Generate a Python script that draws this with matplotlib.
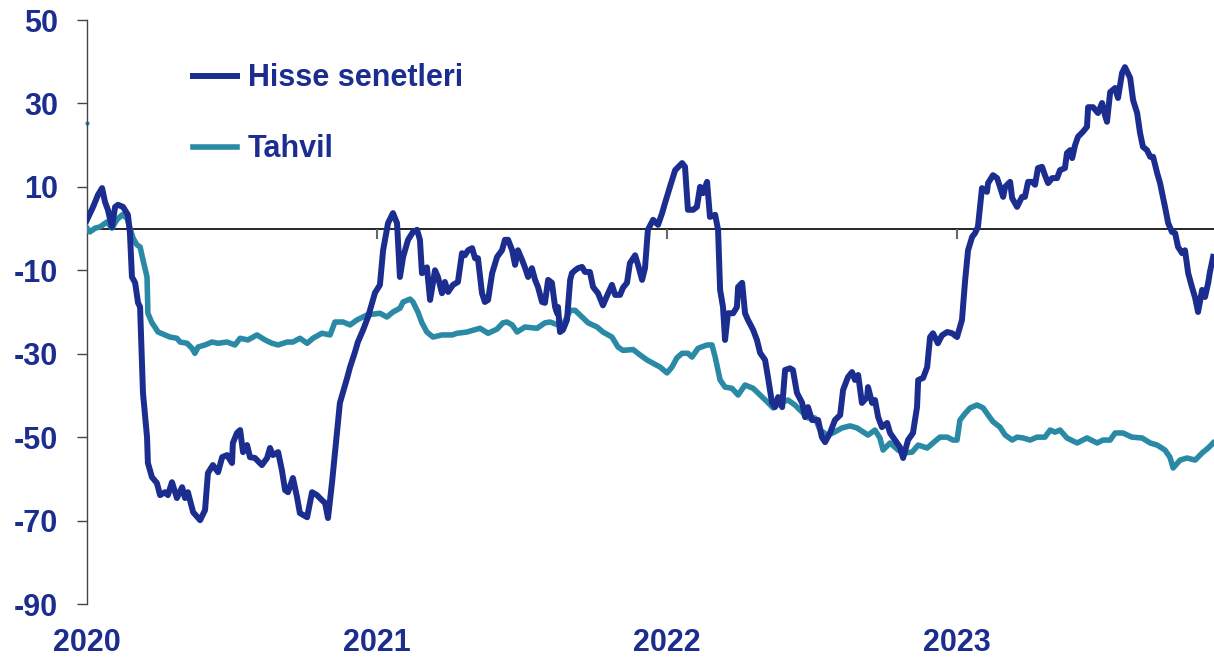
import numpy as np
import matplotlib
matplotlib.use("Agg")
import matplotlib.pyplot as plt

# x = years since start of 2020 (decimal), y = % change
hisse_t = [0.000, 0.021, 0.038, 0.052, 0.062, 0.072, 0.086, 0.097, 0.107, 0.124, 0.141, 0.148, 0.155, 0.166,
           0.176, 0.183, 0.193, 0.207, 0.210, 0.224, 0.241, 0.252, 0.269, 0.279, 0.293, 0.310, 0.328, 0.338,
           0.348, 0.366, 0.390, 0.407, 0.417, 0.434, 0.452, 0.466, 0.483, 0.500, 0.503, 0.517, 0.528, 0.538,
           0.552, 0.562, 0.579, 0.603, 0.621, 0.631, 0.641, 0.659, 0.672, 0.683, 0.693, 0.710, 0.724, 0.734,
           0.759, 0.776, 0.793, 0.810, 0.821, 0.831, 0.845, 0.862, 0.872, 0.897, 0.907, 0.924, 0.934, 0.952,
           0.969, 0.993, 1.010, 1.021, 1.034, 1.038, 1.055, 1.069, 1.079, 1.090, 1.107, 1.124, 1.138, 1.148,
           1.155, 1.172, 1.183, 1.200, 1.210, 1.224, 1.234, 1.245, 1.262, 1.279, 1.293, 1.303, 1.314, 1.328,
           1.338, 1.348, 1.362, 1.372, 1.383, 1.397, 1.414, 1.431, 1.441, 1.452, 1.466, 1.476, 1.486, 1.500,
           1.510, 1.521, 1.534, 1.545, 1.555, 1.569, 1.579, 1.590, 1.603, 1.614, 1.621, 1.624, 1.631, 1.641,
           1.655, 1.666, 1.672, 1.683, 1.693, 1.707, 1.717, 1.734, 1.745, 1.762, 1.779, 1.797, 1.810, 1.821,
           1.838, 1.848, 1.862, 1.872, 1.890, 1.900, 1.914, 1.924, 1.934, 1.952, 1.969, 1.983, 1.993, 2.010,
           2.028, 2.052, 2.062, 2.072, 2.090, 2.103, 2.114, 2.124, 2.138, 2.148, 2.166, 2.176, 2.183, 2.193,
           2.200, 2.210, 2.228, 2.241, 2.245, 2.259, 2.269, 2.279, 2.297, 2.310, 2.321, 2.338, 2.348, 2.362,
           2.372, 2.383, 2.397, 2.407, 2.424, 2.434, 2.448, 2.466, 2.476, 2.486, 2.500, 2.521, 2.534, 2.545,
           2.562, 2.579, 2.597, 2.607, 2.624, 2.638, 2.648, 2.659, 2.672, 2.690, 2.693, 2.707, 2.717, 2.728,
           2.741, 2.759, 2.769, 2.779, 2.793, 2.803, 2.814, 2.831, 2.848, 2.862, 2.866, 2.883, 2.897, 2.907,
           2.917, 2.934, 2.948, 2.966, 2.983, 3.000, 3.017, 3.028, 3.038, 3.052, 3.062, 3.072, 3.086, 3.103,
           3.107, 3.124, 3.138, 3.148, 3.159, 3.166, 3.183, 3.190, 3.207, 3.224, 3.234, 3.245, 3.259, 3.269,
           3.279, 3.293, 3.303, 3.314, 3.328, 3.345, 3.355, 3.372, 3.379, 3.390, 3.397, 3.407, 3.417, 3.434,
           3.448, 3.452, 3.469, 3.486, 3.500, 3.510, 3.517, 3.528, 3.545, 3.555, 3.569, 3.579, 3.597, 3.607,
           3.621, 3.631, 3.641, 3.655, 3.666, 3.676, 3.690, 3.700, 3.717, 3.728, 3.741, 3.752, 3.762, 3.776,
           3.786, 3.797, 3.810, 3.821, 3.831, 3.845, 3.855, 3.866, 3.872, 3.883]
hisse_v = [2.1, 5.2, 8.1, 9.7, 6.4, 4.5, 0.4, 5.2, 5.7, 5.2, 3.3, -1.0, -11.6, -13.0,
           -17.8, -18.8, -39.4, -50.0, -56.2, -59.6, -61.0, -63.9, -63.2, -63.9, -60.8, -64.6, -62.0, -64.6,
           -63.2, -68.0, -69.9, -67.5, -58.6, -56.7, -58.4, -54.8, -54.3, -56.2, -51.4, -49.0, -48.3, -53.6,
           -51.9, -54.8, -55.0, -56.7, -55.0, -52.6, -54.3, -53.6, -57.9, -62.7, -63.2, -59.8, -64.3, -68.2,
           -69.2, -63.2, -63.9, -65.1, -65.8, -69.4, -60.8, -49.0, -41.8, -35.8, -33.2, -29.6, -27.2, -24.3,
           -21.2, -15.4, -13.5, -5.2, -0.3, 1.3, 3.7, 1.3, -11.6, -6.8, -2.7, -0.8, -0.3, -2.7,
           -10.7, -9.3, -17.1, -10.0, -11.6, -15.5, -12.8, -15.2, -13.5, -12.8, -5.9, -6.4, -5.2, -4.7,
           -7.1, -7.1, -15.5, -17.6, -17.1, -10.7, -6.8, -5.2, -2.7, -2.7, -5.2, -8.7, -5.2, -7.5,
           -9.3, -11.6, -9.5, -12.3, -14.0, -17.6, -17.8, -12.3, -13.0, -18.8, -20.3, -18.8, -24.8, -24.3,
           -21.9, -12.3, -10.7, -10.0, -9.5, -9.2, -10.4, -10.4, -14.0, -15.5, -18.4, -15.5, -13.5, -15.9,
           -15.9, -14.2, -13.0, -8.3, -6.4, -8.7, -12.3, -9.5, -0.3, 2.1, 0.9, 3.7, 6.1, 10.0,
           14.0, 15.7, 14.8, 4.5, 4.5, 5.2, 10.0, 8.5, 11.2, 2.8, 3.3, -0.3, -14.7, -18.8,
           -26.7, -20.3, -20.3, -18.8, -14.0, -13.0, -20.3, -21.9, -24.3, -26.7, -29.8, -31.5, -35.6, -41.8,
           -42.8, -40.4, -42.8, -33.9, -33.5, -33.9, -39.4, -41.8, -45.2, -42.8, -45.9, -45.9, -50.0, -51.2,
           -49.0, -45.9, -44.7, -38.7, -35.6, -34.4, -36.3, -35.1, -41.8, -40.4, -38.0, -41.8, -41.1, -45.2,
           -47.6, -46.6, -49.0, -50.0, -51.4, -52.4, -55.0, -50.7, -49.0, -42.8, -36.3, -35.8, -33.2, -26.0,
           -25.1, -27.5, -25.6, -24.8, -25.1, -26.0, -21.9, -12.3, -5.2, -2.0, -1.1, 0.4, 9.7, 8.8,
           10.9, 12.8, 12.1, 10.0, 7.6, 10.0, 11.2, 7.3, 5.2, 7.6, 7.6, 11.2, 11.2, 10.5,
           14.5, 14.8, 12.8, 10.9, 12.1, 12.1, 14.0, 14.5, 18.1, 18.8, 16.9, 20.0, 22.0, 23.2,
           24.4, 29.1, 29.1, 27.7, 30.1, 27.2, 25.6, 32.7, 33.7, 31.3, 37.3, 38.7, 36.1, 30.8,
           27.7, 22.9, 19.6, 18.8, 17.2, 17.2, 13.3, 10.9, 5.2, 1.3, -0.8, -1.1, -4.4, -5.9,
           -5.2, -10.7, -14.0, -16.6, -20.0, -14.7, -16.4, -13.0, -10.4, -6.8]

tahvil_t = [0.000, 0.010, 0.028, 0.045, 0.069, 0.086, 0.103, 0.121, 0.138, 0.148, 0.159, 0.172, 0.183, 0.193,
            0.207, 0.210, 0.224, 0.234, 0.245, 0.269, 0.286, 0.310, 0.321, 0.345, 0.362, 0.372, 0.383, 0.407,
            0.431, 0.452, 0.483, 0.510, 0.528, 0.555, 0.586, 0.614, 0.638, 0.659, 0.690, 0.710, 0.734, 0.759,
            0.779, 0.810, 0.838, 0.855, 0.883, 0.907, 0.931, 0.966, 1.010, 1.034, 1.055, 1.079, 1.090, 1.114,
            1.124, 1.141, 1.155, 1.172, 1.193, 1.224, 1.259, 1.276, 1.310, 1.345, 1.355, 1.383, 1.414, 1.434,
            1.448, 1.466, 1.483, 1.510, 1.552, 1.579, 1.597, 1.624, 1.641, 1.655, 1.666, 1.683, 1.707, 1.728,
            1.759, 1.779, 1.810, 1.831, 1.848, 1.883, 1.907, 1.931, 1.976, 2.000, 2.017, 2.034, 2.052, 2.072,
            2.086, 2.107, 2.138, 2.155, 2.166, 2.183, 2.200, 2.224, 2.245, 2.269, 2.297, 2.321, 2.345, 2.366,
            2.390, 2.417, 2.441, 2.466, 2.486, 2.510, 2.528, 2.552, 2.572, 2.603, 2.631, 2.655, 2.693, 2.717,
            2.734, 2.745, 2.769, 2.797, 2.814, 2.845, 2.866, 2.897, 2.917, 2.941, 2.966, 2.986, 3.000, 3.010,
            3.028, 3.045, 3.069, 3.090, 3.107, 3.124, 3.148, 3.166, 3.190, 3.207, 3.228, 3.252, 3.276, 3.303,
            3.321, 3.338, 3.355, 3.379, 3.414, 3.448, 3.483, 3.503, 3.528, 3.545, 3.572, 3.603, 3.638, 3.666,
            3.690, 3.717, 3.734, 3.745, 3.769, 3.793, 3.821, 3.845, 3.866, 3.883]
tahvil_v = [0.1, -0.8, 0.1, 0.4, 1.6, 0.1, 2.1, 3.3, 2.5, 0.1, -2.3, -3.9, -4.4, -7.5,
            -11.6, -20.3, -22.6, -23.6, -24.8, -25.5, -26.0, -26.3, -27.2, -27.5, -28.7, -29.9, -28.4, -27.9,
            -27.2, -27.5, -27.2, -27.9, -26.3, -26.7, -25.5, -26.7, -27.5, -27.9, -27.2, -27.2, -26.3, -27.5,
            -26.3, -25.1, -25.5, -22.4, -22.4, -23.1, -21.9, -20.7, -20.3, -21.2, -20.0, -19.1, -17.6, -16.9,
            -17.6, -20.0, -22.6, -24.8, -26.0, -25.5, -25.5, -25.1, -24.8, -24.1, -23.9, -25.1, -24.1, -22.6,
            -22.4, -23.1, -24.8, -23.6, -23.9, -22.6, -22.4, -23.1, -23.1, -21.2, -19.6, -19.6, -21.2, -22.6,
            -23.6, -24.8, -26.0, -28.4, -29.2, -29.0, -30.3, -31.5, -33.2, -34.6, -33.2, -31.0, -29.9, -29.9,
            -30.8, -28.7, -27.9, -27.9, -30.8, -36.3, -38.0, -38.3, -39.9, -37.5, -38.3, -39.9, -41.5, -43.0,
            -41.8, -41.1, -42.3, -44.0, -45.4, -45.4, -48.3, -49.5, -49.0, -47.8, -47.3, -47.8, -49.5, -48.3,
            -50.2, -53.1, -51.4, -53.1, -53.8, -53.6, -51.9, -52.6, -51.4, -50.0, -50.0, -50.7, -50.7, -45.9,
            -44.3, -43.0, -42.3, -43.0, -44.7, -46.3, -47.6, -49.5, -50.7, -50.0, -50.2, -50.7, -50.0, -50.0,
            -48.3, -48.8, -48.3, -50.2, -51.4, -50.2, -51.4, -50.7, -50.7, -49.0, -49.0, -50.0, -50.2, -51.4,
            -51.9, -53.1, -54.8, -57.4, -55.5, -55.0, -55.5, -53.8, -52.6, -51.4]
tahvil_first = 25.3  # stray first point at the left edge

years = [0, 1, 2, 3]
year_labels = ["2020", "2021", "2022", "2023"]
yticks = [50, 30, 10, -10, -30, -50, -70, -90]

BLUE = "#1b2e8f"
TEAL = "#2a89a4"
plt.rcParams["font.family"] = ["Liberation Sans", "DejaVu Sans"]
plt.rcParams["font.weight"] = "bold"
plt.rcParams["axes.unicode_minus"] = False

fig = plt.figure(figsize=(12.14, 6.60), dpi=100)
ax = fig.add_axes([87 / 1214, 1 - 604 / 660, 1 - 87 / 1214, 584 / 660])

ax.plot(tahvil_t, tahvil_v, color=TEAL, lw=4.0, solid_joinstyle="round", label="Tahvil", zorder=3)
ax.plot(hisse_t, hisse_v, color=BLUE, lw=4.3, solid_joinstyle="round", label="Hisse senetleri", zorder=4)
ax.plot([0], [tahvil_first], "o", color=TEAL, ms=2, clip_on=False)

ax.axhline(0, color="black", lw=1.2, zorder=2)
ax.vlines(years[1:], -2.4, 0, color="#666666", lw=1.5, zorder=2)

ax.set_xlim(0, 3.886)
ax.set_ylim(-90, 50)
ax.set_yticks(yticks)
ax.set_xticks(years)
ax.set_xticklabels(year_labels)
ax.tick_params(axis="y", direction="out", length=7, width=1, color="#444444",
               labelsize=22, labelcolor=BLUE, pad=14)
ax.tick_params(axis="x", length=0, labelsize=22, labelcolor=BLUE, pad=17)
for s in ["top", "right", "bottom"]:
    ax.spines[s].set_visible(False)
ax.spines["left"].set_color("#444444")
ax.spines["left"].set_linewidth(1)

h, l = ax.get_legend_handles_labels()
leg = ax.legend(h[::-1], l[::-1], loc="upper left", bbox_to_anchor=(0.094, 0.926), frameon=False,
                fontsize=22, handlelength=1.45, handletextpad=0.35, labelspacing=1.35, borderpad=0,
                borderaxespad=0)
for t in leg.get_texts():
    t.set_color(BLUE)
    t.set_fontweight("bold")

fig.savefig("out.png", dpi=100)
